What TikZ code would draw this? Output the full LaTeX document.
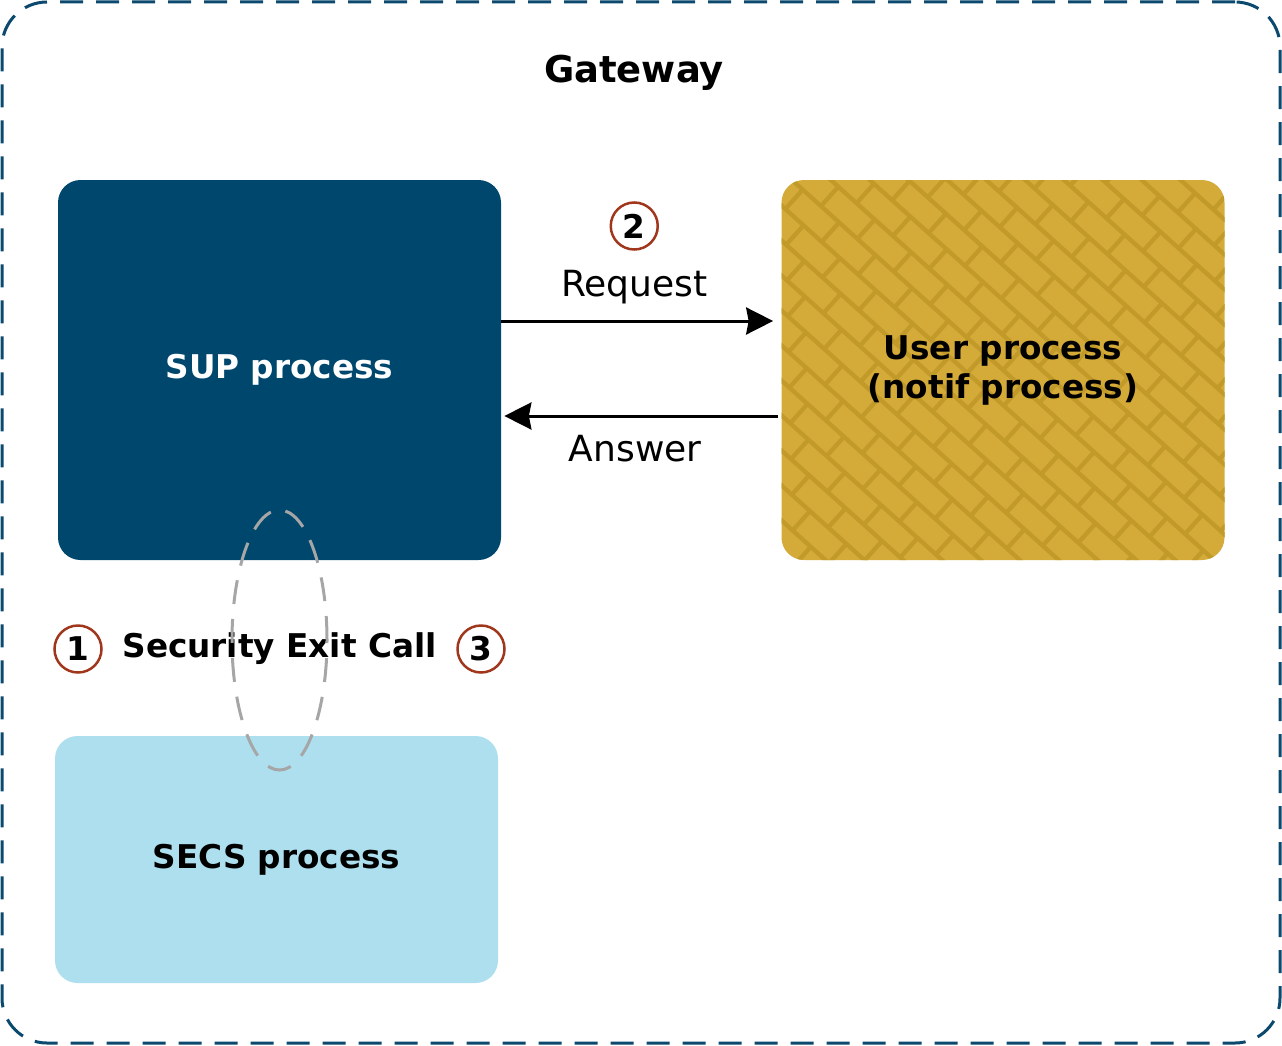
\documentclass[tikz,border=0pt]{standalone}
\usepackage{fontspec}
\setmainfont{DejaVu Sans}
\usetikzlibrary{arrows.meta, positioning, shapes.geometric}

\definecolor{supblue}{HTML}{00476E}
\definecolor{secsblue}{HTML}{ADDFEF}
\definecolor{gold}{HTML}{D4AA38}
\definecolor{goldline}{HTML}{C29A29}
\definecolor{frameblue}{HTML}{0B4A6E}
\definecolor{rust}{HTML}{A0361C}
\definecolor{ringgray}{HTML}{A6A6A6}

\begin{document}
\begin{tikzpicture}[
        node distance = 4cm,
        on grid,
        >= {Stealth[length = 0.54cm, width = 0.54cm, inset = 0.05cm]},
        every node/.style = {font = \fontsize{18.6}{22.2}\selectfont\bfseries},
        proc/.style = {rounded corners = 0.45cm, minimum width = 8.86cm, minimum height = 7.6cm, inner sep = 0pt, align = center},
        frame/.style = {draw = frameblue, line width = 0.06cm, dash pattern = on 0.46cm off 0.26cm, rounded corners = 0.9cm, minimum width = 25.56cm, minimum height = 20.82cm},
        flow/.style = {line width = 0.06cm},
        msg/.style = {font = \fontsize{20.5}{24}\selectfont},
        stepmark/.style = {circle, draw = rust, line width = 0.05cm, minimum size = 0.94cm, inner sep = 0pt},
        ring/.style = {ellipse, draw = ringgray, line width = 0.06cm, dash pattern = on 0.48cm off 0.3cm, minimum width = 1.9cm, minimum height = 5.2cm, inner sep = 0pt, outer sep = 0pt},
        mortar/.style = {draw = goldline, line width = 0.085cm}
    ]

    \useasboundingbox (0,0) rectangle (25.64,-20.9);

    \node[frame] (gateway) at (12.82,-10.45) {};
    \node (title) at (12.68,-1.45) {\fontsize{21}{25}\selectfont Gateway};

    \node[proc, fill = supblue, text = white] (sup) at (5.59,-7.40) {SUP process};

    \node[proc, fill = gold, path picture = {
            \foreach \r in {-13,...,13} {
                \draw[mortar] (path picture bounding box.center) ++(-42:-9) ++(48:\r*0.52) -- ++(-42:18);
                \foreach \c in {-10,...,10} {
                    \pgfmathsetmacro\xo{\c*0.98 + mod(\r+100,2)*0.49}
                    \draw[mortar] (path picture bounding box.center) ++(-42:\xo) ++(48:\r*0.52) -- ++(48:0.52);
                }
            }
        }] (user) [right = 14.47cm of sup] {User process\\(notif process)};

    \node[proc, fill = secsblue, minimum height = 4.94cm, xshift = -0.06cm] (secs) [below = 9.79cm of sup] {SECS process};

    \node (exit) [below = 5.58cm of sup] {Security Exit Call};
    \node[stepmark] (one)   [left = 4.03cm of exit]  {1};
    \node[stepmark] (three) [right = 4.03cm of exit] {3};

    \path[->, flow]
        ([yshift = 0.98cm]sup.east)   edge [shorten >= 0.16cm]
            node [msg, yshift = 0.67cm, xshift = -0.14cm] {Request}
            node [stepmark, yshift = 1.9cm, xshift = -0.14cm] {2}   ([yshift = 0.98cm]user.west)
        ([yshift = -0.92cm]user.west) edge [shorten <= 0.06cm, shorten >= 0.06cm]
            node [msg, yshift = -0.65cm, xshift = -0.12cm] {Answer} ([yshift = -0.92cm]sup.east);

    \node[ring] (call) [below = 5.40cm of sup] {};

\end{tikzpicture}
\end{document}
